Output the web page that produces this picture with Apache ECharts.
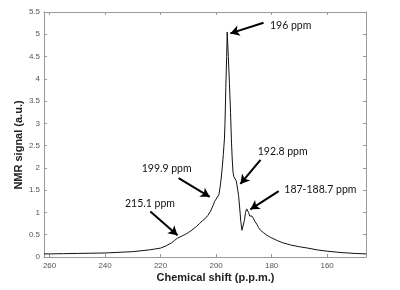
<!DOCTYPE html>
<html><head><meta charset="utf-8">
<script src="https://cdn.jsdelivr.net/npm/echarts@6/dist/echarts.min.js"></script>
<style>html,body{margin:0;padding:0;background:#fff}#c{width:400px;height:290px}</style>
</head><body><div id="c"></div>
<script>
// Chemical shift (ppm) and NMR signal (a.u.)
var shift = [262,260,255,250,245,240,235,230,227,224,222,220,218,216,215,214,213,212,211,210,209,208,207,206,205,204,203,202,201,200.5,200,199.5,199,198.6,198.2,197.8,197.4,197.0,196.8,196.5,196.2,196.0,195.6,195.2,194.8,194.5,194.2,193.9,193.6,193.2,192.8,192.5,192.2,191.9,191.5,191.1,190.7,190.5,190.2,189.8,189.4,189.0,188.7,188.3,187.9,187.5,187.1,186.6,186.0,185.3,184.7,184.0,183.0,182.0,180.4,178,176,173.2,170,167,163.6,160,155,150,146];
var signal = [0.07,0.07,0.075,0.08,0.085,0.09,0.105,0.12,0.14,0.16,0.18,0.2,0.25,0.32,0.37,0.42,0.45,0.48,0.51,0.55,0.59,0.64,0.69,0.75,0.81,0.86,0.93,1.03,1.17,1.25,1.3,1.34,1.4,1.55,1.75,2.0,2.3,2.65,3.0,3.8,4.5,5.05,4.5,3.9,3.25,2.65,2.2,1.9,1.8,1.78,1.72,1.62,1.5,1.38,1.1,0.8,0.6,0.56,0.62,0.82,1.0,1.08,1.09,1.0,0.92,0.93,0.92,0.87,0.8,0.73,0.66,0.6,0.55,0.5,0.44,0.37,0.32,0.27,0.23,0.2,0.16,0.13,0.1,0.08,0.07];
var xTicks = [260,240,220,200,180,160];
var labels = ['196 ppm','192.8 ppm','187-188.7 ppm','199.9 ppm','215.1 ppm'];
// arrow start/end in data coords [ppm, signal]
var arrowFrom = [[182.9,5.26],[184.0,2.18],[177.45,1.48],[213.5,1.77],[223.7,1.02]];
var arrowTo   = [[194.86,5.02],[191.25,1.64],[187.65,1.07],[202.3,1.35],[213.9,0.49]];
var labelPos  = [[270,25.7],[257.7,151.7],[284.3,190],[141.7,169],[125,203.3]];

var pts = shift.map(function(s,i){return [s, signal[i]];});
var axisGrey = '#9a9a9a';
var tickFont = {color:'#555', fontSize:8, fontFamily:'Liberation Sans'};
var chart = echarts.init(document.getElementById('c'), null, {renderer:'canvas'});
var mlData = arrowFrom.map(function(f,i){
  return [{coord:f, symbol:'none'},{coord:arrowTo[i], symbol:'arrow'}];
});
chart.setOption({
  animation:false,
  grid:{left:44, right:34, top:12, bottom:33},
  xAxis:[{
    type:'value', inverse:true, min:146, max:262,
    axisLine:{show:true, onZero:false, lineStyle:{color:axisGrey, width:1}},
    axisTick:{show:true, inside:true, length:3, customValues:xTicks, lineStyle:{color:axisGrey}},
    axisLabel:Object.assign({customValues:xTicks, margin:5}, tickFont),
    splitLine:{show:false}
  },{
    type:'value', inverse:true, min:146, max:262, position:'top',
    axisLine:{show:true, onZero:false, lineStyle:{color:axisGrey, width:1}},
    axisTick:{show:true, inside:true, length:3, customValues:xTicks, lineStyle:{color:axisGrey}},
    axisLabel:{show:false}, splitLine:{show:false}
  }],
  yAxis:[{
    type:'value', min:0, max:5.5, interval:0.5,
    axisLine:{show:true, onZero:false, lineStyle:{color:axisGrey, width:1}},
    axisTick:{show:true, inside:true, length:3, lineStyle:{color:axisGrey}},
    axisLabel:Object.assign({margin:4}, tickFont),
    splitLine:{show:false}
  },{
    type:'value', min:0, max:5.5, interval:0.5, position:'right',
    axisLine:{show:true, onZero:false, lineStyle:{color:axisGrey, width:1}},
    axisTick:{show:true, inside:true, length:3, lineStyle:{color:axisGrey}},
    axisLabel:{show:false}, splitLine:{show:false}
  }],
  series:[{
    type:'line', data:pts, showSymbol:false, symbol:'none',
    lineStyle:{color:'#111', width:1}, silent:true,
    markLine:{
      silent:true, animation:false, symbolSize:[8,9],
      label:{show:false},
      lineStyle:{color:'#000', width:2, type:'solid'},
      emphasis:{disabled:true},
      data:mlData
    }
  }],
  graphic: labels.map(function(t,i){
    return {type:'text', left:null, x:labelPos[i][0], y:labelPos[i][1], silent:true,
      style:{text:t, fill:'#111', font:'10.5px Lato', textVerticalAlign:'middle', textAlign:'left'}};
  }).concat([
    {type:'text', x:215.5, y:277.7, silent:true,
     style:{text:'Chemical shift (p.p.m.)', fill:'#222', font:'bold 11px "Liberation Sans"', textAlign:'center', textVerticalAlign:'middle'}},
    {type:'text', x:18.5, y:145, rotation:Math.PI/2, silent:true,
     style:{text:'NMR signal (a.u.)', fill:'#222', font:'bold 11px "Liberation Sans"', textAlign:'center', textVerticalAlign:'middle'}}
  ])
});
</script></body></html>
